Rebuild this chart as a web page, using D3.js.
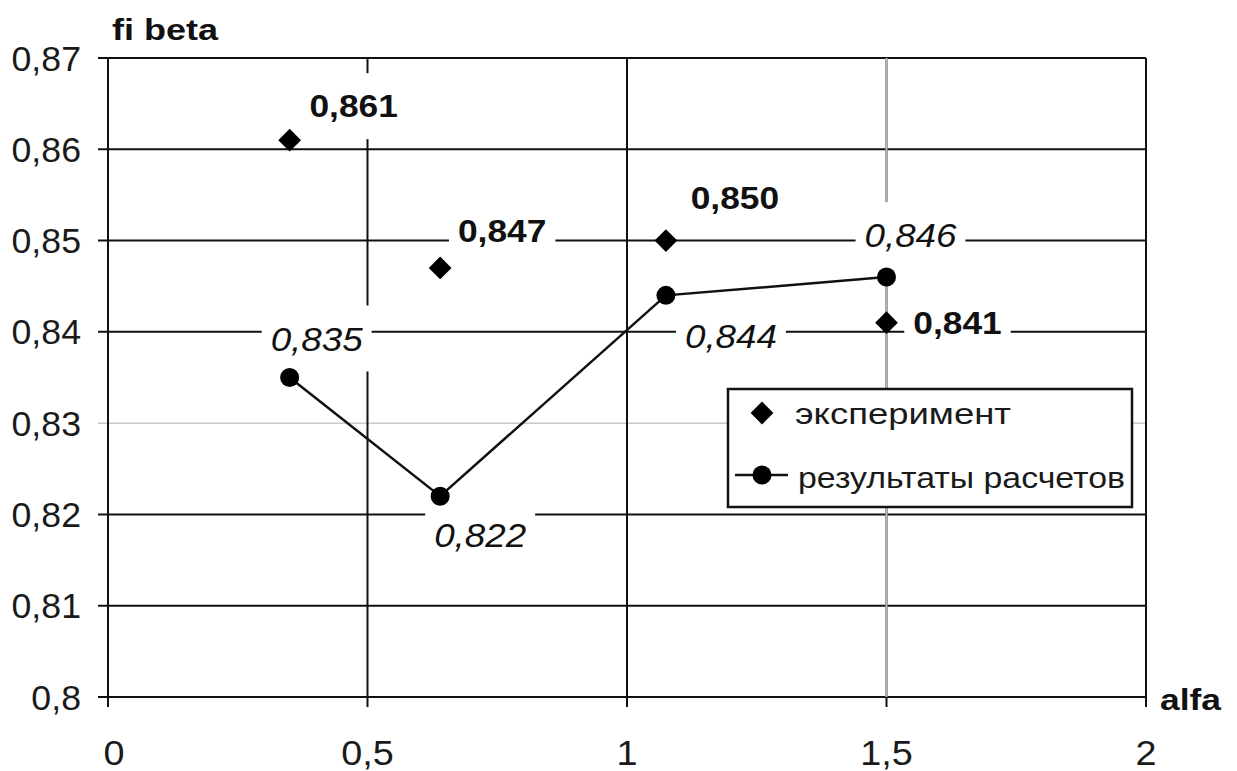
<!DOCTYPE html>
<html><head><meta charset="utf-8">
<script src="https://cdn.jsdelivr.net/npm/d3@7"></script>
<style>
html,body{margin:0;padding:0;background:#fff;}
svg{display:block;font-family:"Liberation Sans",Arial,sans-serif;}
</style></head>
<body>
<svg id="chart" width="1237" height="771"></svg>
<script>
// ---- data ----
const alfa = [0.35, 0.64, 1.075, 1.5];
const experiment = [0.861, 0.847, 0.850, 0.841];
const calculated = [0.835, 0.822, 0.844, 0.846];
const xTicks = [0, 0.5, 1, 1.5, 2];
const yTicks = [0.80, 0.81, 0.82, 0.83, 0.84, 0.85, 0.86, 0.87];
const seriesNames = ["эксперимент", "результаты расчетов"];
const xTitle = "alfa";
const yTitle = "fi beta";

// ---- label placement (style) ----
const expLabelOffset = [[64,-34],[62,-36],[69,-42],[71,1]];
const calcLabelOffset = [[27,-39],[40,39],[65,41],[24,-42]];

const svg = d3.select("#chart");
const x = d3.scaleLinear().domain([0, 2]).range([108, 1146]);
const y = d3.scaleLinear().domain([0.80, 0.87]).range([697, 58]);
const fmt = v => d3.format(".3f")(v).replace(".", ",");
const tickFmt = v => String(+v.toFixed(2)).replace(".", ",");

function stretch(sel, f) {
  sel.each(function () {
    const w = this.getComputedTextLength();
    d3.select(this).attr("textLength", w * f).attr("lengthAdjust", "spacingAndGlyphs");
  });
  return sel;
}

// gridlines
const gy = svg.append("g");
yTicks.forEach(t => {
  const light = Math.abs(t - 0.83) < 1e-9;
  gy.append("line").attr("x1", x(0) - 10).attr("x2", x(2))
    .attr("y1", y(t)).attr("y2", y(t))
    .attr("stroke", light ? "#c8c8c8" : "#111")
    .attr("stroke-width", light ? 1.5 : 2);
});
xTicks.forEach(t => {
  gy.append("line").attr("x1", x(t)).attr("x2", x(t))
    .attr("y1", y(0.87)).attr("y2", y(0.80) + 10)
    .attr("stroke", "#111").attr("stroke-width", 2);
  if (Math.abs(t - 1.5) < 1e-9) {
    gy.append("line").attr("x1", x(t)).attr("x2", x(t))
      .attr("y1", y(0.87)).attr("y2", y(0.80))
      .attr("stroke", "#b8b8b8").attr("stroke-width", 2.2);
  }
});

// axes tick labels
stretch(svg.append("g").selectAll("text").data(yTicks).join("text")
  .attr("x", 81).attr("y", d => y(d)).attr("text-anchor", "end")
  .attr("dominant-baseline", "central").attr("font-size", 35).attr("fill", "#1a1a1a")
  .text(tickFmt), 1.02);
stretch(svg.append("g").selectAll("text").data(xTicks).join("text")
  .attr("x", d => x(d) + (d === 0 ? 6 : 0)).attr("y", 752).attr("text-anchor", "middle")
  .attr("dominant-baseline", "central").attr("font-size", 35).attr("fill", "#1a1a1a")
  .text(tickFmt), 1.08);
svg.append("text").attr("x", 112).attr("y", 30).attr("dominant-baseline", "central")
  .attr("font-size", 29).attr("font-weight", "bold").attr("fill", "#111").text(yTitle)
  .attr("textLength", 106).attr("lengthAdjust", "spacingAndGlyphs");
svg.append("text").attr("x", 1160).attr("y", 700).attr("dominant-baseline", "central")
  .attr("font-size", 29).attr("font-weight", "bold").attr("fill", "#111").text(xTitle)
  .attr("textLength", 61).attr("lengthAdjust", "spacingAndGlyphs");

// data labels with white boxes
function label(xv, yv, off, txt, bold) {
  const g = svg.append("g");
  const t = g.append("text").attr("x", x(xv) + off[0]).attr("y", y(yv) + off[1])
    .attr("text-anchor", "middle").attr("dominant-baseline", "central")
    .attr("font-size", bold ? 31 : 34)
    .attr("font-weight", bold ? "bold" : "normal")
    .attr("font-style", bold ? "normal" : "italic")
    .attr("fill", "#111").text(txt);
  stretch(t, bold ? 1.14 : 1.08);
  const w = +t.attr("textLength");
  g.insert("rect", "text").attr("x", x(xv) + off[0] - w / 2 - 9).attr("y", y(yv) + off[1] - 33)
    .attr("width", w + 18).attr("height", 66).attr("fill", "#fff");
}
alfa.forEach((a, i) => label(a, calculated[i], calcLabelOffset[i], fmt(calculated[i]), false));
alfa.forEach((a, i) => label(a, experiment[i], expLabelOffset[i], fmt(experiment[i]), true));

// calculated series line
const line = d3.line().x((d, i) => x(alfa[i])).y(d => y(d));
svg.append("path").datum(calculated).attr("d", line)
  .attr("fill", "none").attr("stroke", "#111").attr("stroke-width", 2.5);
svg.append("g").selectAll("circle").data(calculated).join("circle")
  .attr("cx", (d, i) => x(alfa[i])).attr("cy", d => y(d)).attr("r", 9.5).attr("fill", "#000");

// experiment diamonds
const diamond = d3.symbol().type(d3.symbolDiamond2).size(330);
svg.append("g").selectAll("path").data(experiment).join("path")
  .attr("d", diamond)
  .attr("transform", (d, i) => `translate(${x(alfa[i])},${y(d)})`).attr("fill", "#000");

// legend
const lg = svg.append("g");
lg.append("rect").attr("x", 728).attr("y", 389).attr("width", 404).attr("height", 118)
  .attr("fill", "#fff").attr("stroke", "#111").attr("stroke-width", 2.5);
lg.append("path").attr("d", diamond).attr("transform", "translate(762,413)").attr("fill", "#000");
lg.append("line").attr("x1", 735).attr("x2", 788).attr("y1", 475).attr("y2", 475)
  .attr("stroke", "#111").attr("stroke-width", 2.5);
lg.append("circle").attr("cx", 762).attr("cy", 475).attr("r", 9.5).attr("fill", "#000");
lg.append("text").attr("x", 795).attr("y", 413).attr("dominant-baseline", "central")
  .attr("font-size", 30).attr("fill", "#1a1a1a").text(seriesNames[0])
  .attr("textLength", 216).attr("lengthAdjust", "spacingAndGlyphs");
lg.append("text").attr("x", 798).attr("y", 477).attr("dominant-baseline", "central")
  .attr("font-size", 30).attr("fill", "#1a1a1a").text(seriesNames[1])
  .attr("textLength", 327).attr("lengthAdjust", "spacingAndGlyphs");
</script>
</body></html>
